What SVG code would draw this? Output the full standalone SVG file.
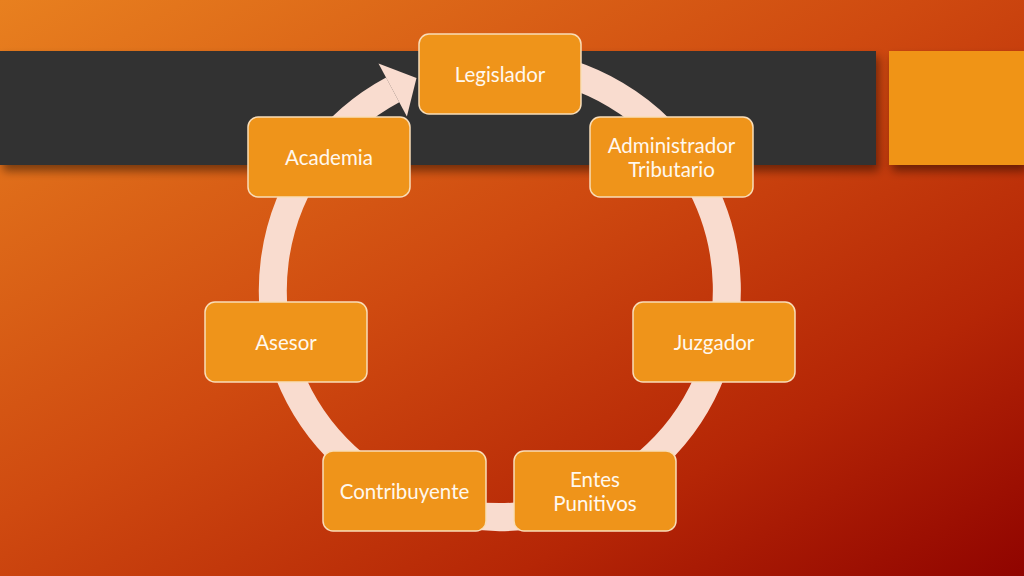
<svg xmlns="http://www.w3.org/2000/svg" width="1024" height="576" viewBox="0 0 1024 576">
  <defs>
    <linearGradient id="bg" x1="0" y1="0" x2="1" y2="1">
      <stop offset="0" stop-color="#E8801F"/>
      <stop offset="0.45" stop-color="#CF4A10"/>
      <stop offset="0.75" stop-color="#B52606"/>
      <stop offset="1" stop-color="#900400"/>
    </linearGradient>
    <filter id="shadow" x="-10%" y="-20%" width="120%" height="160%">
      <feDropShadow dx="3" dy="6" stdDeviation="5" flood-color="#000" flood-opacity="0.45"/>
    </filter>
    <style>
      .node rect { fill: #EF941A; stroke: #F9DDB8; stroke-width: 1.5; }
      .node text { font-family: Lato, "Open Sans", sans-serif; font-size: 20.5px; fill: #FFF8EE; text-anchor: middle; }
      .ring { fill: none; stroke: #F9DCCF; stroke-width: 28; }
      .head { fill: #F9DCCF; }
    </style>
  </defs>
  <rect x="0" y="0" width="1024" height="576" fill="url(#bg)"/>
  <rect x="0" y="51" width="876" height="114" fill="#333333" filter="url(#shadow)"/>
  <rect x="889" y="51" width="135" height="114" fill="#F09418" filter="url(#shadow)"/>

  <g id="connectors">
    <path class="ring" d="M 519.8 63.9 A 227 227 0 1 1 392.7 89.9"/>
    <polygon class="head" points="378.5,63.4 406.9,116.4 416.5,78.0"/>
  </g>

  <g id="legislador" class="node">
    <rect x="419" y="34" width="162" height="80" rx="10"/>
    <text x="500" y="82">Legislador</text>
  </g>
  <g id="administrador" class="node">
    <rect x="590" y="117" width="163" height="80" rx="10"/>
    <text x="671.5" y="153">Administrador</text>
    <text x="671.5" y="177">Tributario</text>
  </g>
  <g id="juzgador" class="node">
    <rect x="633" y="302" width="162" height="80" rx="10"/>
    <text x="714" y="350">Juzgador</text>
  </g>
  <g id="entes" class="node">
    <rect x="514" y="451" width="162" height="80" rx="10"/>
    <text x="595" y="487">Entes</text>
    <text x="595" y="511">Punitivos</text>
  </g>
  <g id="contribuyente" class="node">
    <rect x="323" y="451" width="163" height="80" rx="10"/>
    <text x="404.5" y="499">Contribuyente</text>
  </g>
  <g id="asesor" class="node">
    <rect x="205" y="302" width="162" height="80" rx="10"/>
    <text x="286" y="350">Asesor</text>
  </g>
  <g id="academia" class="node">
    <rect x="248" y="117" width="162" height="80" rx="10"/>
    <text x="329" y="165">Academia</text>
  </g>
</svg>
